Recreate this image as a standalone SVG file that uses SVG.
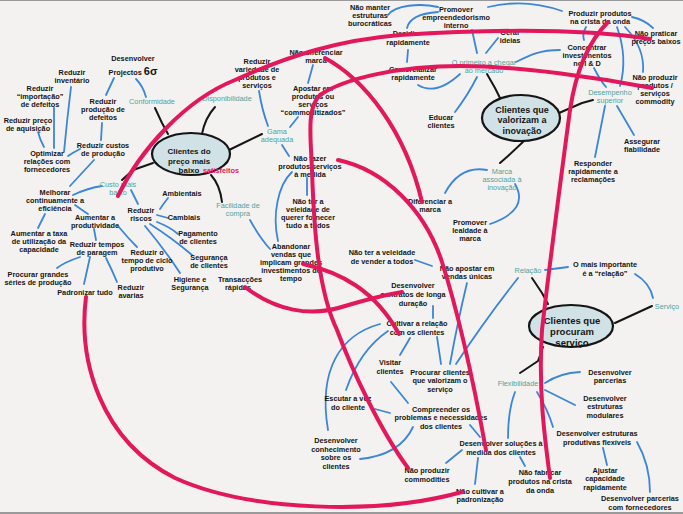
<svg xmlns="http://www.w3.org/2000/svg" width="683" height="514" viewBox="0 0 683 514">
<style>
.t{font-family:"Liberation Sans",Arial,sans-serif;font-size:7.3px;font-weight:bold;fill:#151515;text-anchor:middle}
.tl{font-family:"Liberation Sans",Arial,sans-serif;font-size:7.3px;fill:#4fa39c;text-anchor:middle}
.nt{font-family:"Liberation Sans",Arial,sans-serif;font-weight:bold;fill:#151515;text-anchor:middle}
.hub{fill:#d0e2e5;stroke:#151515;stroke-width:2.2}
.b{fill:none;stroke:#3b86d8;stroke-width:1.8;stroke-linecap:round}
.k{fill:none;stroke:#151515;stroke-width:2;stroke-linecap:round;stroke-linejoin:round}
.m{fill:none;stroke:#e3175c;stroke-width:4;stroke-linecap:round}
</style>
<rect width="683" height="514" fill="#f3f2f0"/>
<rect x="0" y="0" width="683" height="1" fill="#9a9a9a"/>
<rect x="0" y="512" width="683" height="2" fill="#9a9a9a"/>

<g id="connectors">
<path class="b" d="M114,78 L106,95"/>
<path class="b" d="M136,79 Q143,86 146,97"/>
<path class="b" d="M71,87 Q67,120 64,152"/>
<path class="b" d="M54,108 L54,148"/>
<path class="b" d="M38,132 Q40,140 44,147"/>
<path class="b" d="M102,123 L101,140"/>
<path class="b" d="M80,149 Q74,152 68,156"/>
<path class="b" d="M94,160 L70,186"/>
<path class="b" d="M73,195 Q88,188 102,186"/>
<path class="b" d="M45,214 L38,228"/>
<path class="b" d="M75,205 Q82,210 88,214"/>
<path class="b" d="M94,229 L96,240"/>
<path class="b" d="M118,226 Q128,238 137,247"/>
<path class="b" d="M80,257 Q65,262 57,268"/>
<path class="b" d="M90,257 L84,284"/>
<path class="b" d="M106,258 Q112,270 117,282"/>
<path class="b" d="M131,190 Q135,198 138,204"/>
<path class="b" d="M160,209 Q164,203 168,198"/>
<path class="b" d="M157,215 L168,218"/>
<path class="b" d="M157,222 Q170,227 178,234"/>
<path class="b" d="M150,224 Q172,238 192,255"/>
<path class="b" d="M145,226 Q165,250 180,273"/>
<path class="b" d="M259,91 Q262,110 268,126"/>
<path class="b" d="M308,83 L313,65"/>
<path class="b" d="M290,127 L298,117"/>
<path class="b" d="M282,145 L289,156"/>
<path class="b" d="M307,178 L307,195"/>
<path class="b" d="M292,172 C278,185 272,215 278,241"/>
<path class="b" d="M250,220 Q260,238 270,249"/>
<path class="b" d="M388,15 C395,5 420,3 438,7"/>
<path class="b" d="M407,28 Q410,14 438,12"/>
<path class="b" d="M488,7 Q525,-2 562,11"/>
<path class="b" d="M472,30 L477,53"/>
<path class="b" d="M498,38 L486,53"/>
<path class="b" d="M516,62 C530,55 540,50 560,50"/>
<path class="b" d="M418,85 Q436,96 460,74"/>
<path class="b" d="M408,50 L407,62"/>
<path class="b" d="M455,112 Q468,95 477,77"/>
<path class="b" d="M632,17 Q645,20 653,28"/>
<path class="b" d="M586,27 Q582,34 584,40"/>
<path class="b" d="M617,27 Q628,58 620,86"/>
<path class="b" d="M625,27 Q645,48 643,72"/>
<path class="b" d="M594,68 Q600,80 606,87"/>
<path class="b" d="M605,106 L595,157"/>
<path class="b" d="M617,106 L634,135"/>
<path class="b" d="M487,170 Q460,165 445,193"/>
<path class="b" d="M515,184 Q530,210 490,224"/>
<path class="b" d="M545,270 L568,267"/>
<path class="b" d="M635,274 Q650,283 653,298"/>
<path class="b" d="M518,278 Q485,320 456,364"/>
<path class="b" d="M467,283 Q458,320 450,364"/>
<path class="b" d="M437,337 L441,364"/>
<path class="b" d="M415,260 L432,266"/>
<path class="b" d="M433,306 L433,318"/>
<path class="b" d="M380,324 C340,335 318,370 328,430"/>
<path class="b" d="M388,331 Q360,350 346,390"/>
<path class="b" d="M410,338 L400,355"/>
<path class="b" d="M391,382 L408,403"/>
<path class="b" d="M375,409 L390,413"/>
<path class="b" d="M413,427 Q400,455 360,459"/>
<path class="b" d="M470,425 L480,437"/>
<path class="b" d="M462,450 L446,463"/>
<path class="b" d="M478,458 L475,484"/>
<path class="b" d="M520,457 L525,466"/>
<path class="b" d="M515,392 Q508,410 508,438"/>
<path class="b" d="M545,383 Q560,373 580,372"/>
<path class="b" d="M545,390 L575,405"/>
<path class="b" d="M537,392 Q548,410 553,427"/>
<path class="b" d="M603,448 L607,465"/>
<path class="b" d="M637,442 Q650,465 650,492"/>
<path class="k" d="M155,108 L162,123 L168,134"/>
<path class="k" d="M215,107 Q205,118 202,134"/>
<path class="k" d="M229,150 L262,134"/>
<path class="k" d="M211,175 Q220,185 222,202"/>
<path class="k" d="M153,163 L133,170 L122,180"/>
<path class="k" d="M487,74 L495,88 L500,98"/>
<path class="k" d="M559,113 L582,103 L593,100"/>
<path class="k" d="M525,140 L508,156 L500,163"/>
<path class="k" d="M532,278 L542,293 L548,304"/>
<path class="k" d="M652,306 L615,323"/>
<path class="k" d="M520,373 L538,361 L543,347"/>
</g>

<g id="hub-preco">
<ellipse class="hub" cx="191" cy="154" rx="39" ry="21"/>
<text class="nt" font-size="8" x="189" y="154">Clientes do</text>
<text class="nt" font-size="8" x="189" y="164">preço mais</text>
<text class="nt" font-size="8" x="189" y="173">baixo</text>
<text class="t" x="221" y="173" style="fill:#e3175c">satisfeitos</text>
</g>
<g id="hub-inovacao">
<ellipse class="hub" cx="521" cy="118" rx="39" ry="23"/>
<text class="nt" font-size="9" x="522" y="113">Clientes que</text>
<text class="nt" font-size="9" x="522" y="123">valorizam a</text>
<text class="nt" font-size="9" x="522" y="134">inovação</text>
</g>
<g id="hub-servico">
<ellipse class="hub" cx="571" cy="326" rx="42" ry="21"/>
<text class="nt" font-size="9.5" x="572" y="323.5">Clientes que</text>
<text class="nt" font-size="9.5" x="572" y="334.5">procuram</text>
<text class="nt" font-size="9.5" x="572" y="345.5">serviço</text>
</g>

<g id="n-6sigma"><text class="t" x="133" y="61">Desenvolver</text><text class="t" x="133" y="75">Projectos <tspan font-size="11">6σ</tspan></text></g>
<g id="n-conformidade"><text class="tl" x="152" y="104">Conformidade</text></g>
<g id="n-red-inventario"><text class="t" x="72" y="75">Reduzir</text><text class="t" x="72" y="83">inventário</text></g>
<g id="n-red-importacao"><text class="t" x="40" y="91">Reduzir</text><text class="t" x="40" y="99">“importação”</text><text class="t" x="40" y="107">de defeitos</text></g>
<g id="n-red-preco"><text class="t" x="28" y="123">Reduzir preço</text><text class="t" x="28" y="131">de aquisição</text></g>
<g id="n-red-producao"><text class="t" x="103" y="104">Reduzir</text><text class="t" x="103" y="112">produção de</text><text class="t" x="103" y="120">defeitos</text></g>
<g id="n-red-custos"><text class="t" x="103" y="148">Reduzir custos</text><text class="t" x="103" y="156">de produção</text></g>
<g id="n-optimizar"><text class="t" x="47" y="156">Optimizar</text><text class="t" x="47" y="164">relações com</text><text class="t" x="47" y="172">fornecedores</text></g>
<g id="n-custo"><text class="tl" x="118" y="187">Custo mais</text><text class="tl" x="118" y="195">baixo</text></g>
<g id="n-melhorar"><text class="t" x="55" y="195">Melhorar</text><text class="t" x="55" y="203">continuamente a</text><text class="t" x="55" y="211">eficiência</text></g>
<g id="n-aum-produtividade"><text class="t" x="95" y="220">Aumentar a</text><text class="t" x="95" y="228">produtividade</text></g>
<g id="n-aum-taxa"><text class="t" x="39" y="236">Aumentar a taxa</text><text class="t" x="39" y="244">de utilização da</text><text class="t" x="39" y="252">capacidade</text></g>
<g id="n-red-tempos"><text class="t" x="97" y="247">Reduzir tempos</text><text class="t" x="97" y="255">de paragem</text></g>
<g id="n-red-ciclo"><text class="t" x="147" y="255">Reduzir o</text><text class="t" x="147" y="263">tempo de ciclo</text><text class="t" x="147" y="271">produtivo</text></g>
<g id="n-procurar-grandes"><text class="t" x="38" y="277">Procurar grandes</text><text class="t" x="38" y="285">séries de produção</text></g>
<g id="n-padronizar"><text class="t" x="85" y="295">Padronizar tudo</text></g>
<g id="n-avarias"><text class="t" x="131" y="290">Reduzir</text><text class="t" x="131" y="298">avarias</text></g>
<g id="n-riscos"><text class="t" x="141" y="213">Reduzir</text><text class="t" x="141" y="221">riscos</text></g>
<g id="n-ambientais"><text class="t" x="182" y="196">Ambientais</text></g>
<g id="n-cambiais"><text class="t" x="184" y="220">Cambiais</text></g>
<g id="n-pagamento"><text class="t" x="198" y="236">Pagamento</text><text class="t" x="198" y="244">de clientes</text></g>
<g id="n-seguranca"><text class="t" x="209" y="260">Segurança</text><text class="t" x="209" y="268">de clientes</text></g>
<g id="n-higiene"><text class="t" x="190" y="282">Higiene e</text><text class="t" x="190" y="290">Segurança</text></g>
<g id="n-transaccoes"><text class="t" x="240" y="282">Transacções</text><text class="t" x="238" y="290">rápidas</text></g>

<g id="n-disponibilidade"><text class="tl" x="227" y="101">Disponibilidade</text></g>
<g id="n-gama"><text class="tl" x="277" y="134">Gama</text><text class="tl" x="277" y="142">adequada</text></g>
<g id="n-facilidade"><text class="tl" x="238" y="208">Facilidade de</text><text class="tl" x="238" y="216">compra</text></g>
<g id="n-red-variedade"><text class="t" x="257" y="64">Reduzir</text><text class="t" x="257" y="72">variedade de</text><text class="t" x="257" y="80">produtos e</text><text class="t" x="257" y="88">serviços</text></g>
<g id="n-nao-diferenciar"><text class="t" x="316" y="55">Não diferenciar</text><text class="t" x="316" y="63">marca</text></g>
<g id="n-apostar"><text class="t" x="313" y="91">Apostar em</text><text class="t" x="313" y="99">produtos ou</text><text class="t" x="313" y="107">serviços</text><text class="t" x="313" y="115">“commoditizados”</text></g>
<g id="n-nao-fazer"><text class="t" x="310" y="161">Não fazer</text><text class="t" x="310" y="169">produtos serviços</text><text class="t" x="310" y="177">à medida</text></g>
<g id="n-nao-ter-1"><text class="t" x="308" y="204">Não ter a</text><text class="t" x="308" y="212">veleidade de</text><text class="t" x="308" y="220">querer fornecer</text><text class="t" x="308" y="228">tudo a todos</text></g>
<g id="n-abandonar"><text class="t" x="291" y="249">Abandonar</text><text class="t" x="291" y="257">vendas que</text><text class="t" x="291" y="265">implicam grandes</text><text class="t" x="291" y="273">investimentos de</text><text class="t" x="291" y="281">tempo</text></g>

<g id="n-nao-manter"><text class="t" x="370" y="10">Não manter</text><text class="t" x="370" y="18">estruturas</text><text class="t" x="370" y="26">burocráticas</text></g>
<g id="n-promover"><text class="t" x="456" y="12">Promover</text><text class="t" x="456" y="20">empreendedorismo</text><text class="t" x="456" y="28">interno</text></g>
<g id="n-decidir"><text class="t" x="405" y="36">Decidir</text><text class="t" x="408" y="45">rapidamente</text></g>
<g id="n-comercializar"><text class="t" x="413" y="72">Comercializar</text><text class="t" x="413" y="80">rapidamente</text></g>
<g id="n-primeiro"><text class="tl" x="484" y="65">O primeiro a chegar</text><text class="tl" x="484" y="73">ao mercado</text></g>
<g id="n-gerar"><text class="t" x="510" y="35">Gerar</text><text class="t" x="510" y="43">ideias</text></g>
<g id="n-educar"><text class="t" x="441" y="120">Educar</text><text class="t" x="441" y="128">clientes</text></g>
<g id="n-produzir-crista"><text class="t" x="600" y="16">Produzir produtos</text><text class="t" x="600" y="24">na crista da onda</text></g>
<g id="n-nao-praticar"><text class="t" x="656" y="36">Não praticar</text><text class="t" x="656" y="44">preços baixos</text></g>
<g id="n-concentrar"><text class="t" x="587" y="50">Concentrar</text><text class="t" x="587" y="58">investimentos</text><text class="t" x="587" y="66">no I &amp; D</text></g>
<g id="n-nao-produzir-commodity"><text class="t" x="655" y="80">Não produzir</text><text class="t" x="655" y="88">produtos /</text><text class="t" x="655" y="96">serviços</text><text class="t" x="655" y="104">commodity</text></g>
<g id="n-desempenho"><text class="tl" x="610" y="95">Desempenho</text><text class="tl" x="610" y="103">superior</text></g>
<g id="n-assegurar"><text class="t" x="642" y="144">Assegurar</text><text class="t" x="642" y="152">fiabilidade</text></g>
<g id="n-responder"><text class="t" x="593" y="166">Responder</text><text class="t" x="593" y="174">rapidamente a</text><text class="t" x="593" y="182">reclamações</text></g>
<g id="n-marca"><text class="tl" x="502" y="174">Marca</text><text class="tl" x="502" y="182">associada à</text><text class="tl" x="502" y="190">inovação</text></g>
<g id="n-diferenciar"><text class="t" x="430" y="204">Diferenciar a</text><text class="t" x="430" y="212">marca</text></g>
<g id="n-lealdade"><text class="t" x="470" y="225">Promover</text><text class="t" x="470" y="233">lealdade à</text><text class="t" x="470" y="241">marca</text></g>

<g id="n-nao-ter-2"><text class="t" x="382" y="255">Não ter a veleidade</text><text class="t" x="382" y="264">de vender a todos</text></g>
<g id="n-nao-apostar"><text class="t" x="467" y="271">Não apostar em</text><text class="t" x="467" y="279">vendas únicas</text></g>
<g id="n-contratos"><text class="t" x="413" y="288">Desenvolver</text><text class="t" x="413" y="297">contratos de longa</text><text class="t" x="413" y="306">duração</text></g>
<g id="n-cultivar"><text class="t" x="417" y="326">Cultivar a relação</text><text class="t" x="417" y="335">com os clientes</text></g>
<g id="n-relacao"><text class="tl" x="528" y="273">Relação</text></g>
<g id="n-mais-importante"><text class="t" x="605" y="267">O mais importante</text><text class="t" x="605" y="276">é a “relação”</text></g>
<g id="n-servico"><text class="tl" x="667" y="309">Serviço</text></g>
<g id="n-visitar"><text class="t" x="390" y="365">Visitar</text><text class="t" x="390" y="374">clientes</text></g>
<g id="n-procurar-clientes"><text class="t" x="440" y="375">Procurar clientes</text><text class="t" x="440" y="383">que valorizam o</text><text class="t" x="440" y="392">serviço</text></g>
<g id="n-escutar"><text class="t" x="348" y="401">Escutar a voz</text><text class="t" x="348" y="410">do cliente</text></g>
<g id="n-compreender"><text class="t" x="441" y="412">Compreender os</text><text class="t" x="441" y="420">problemas e necessidades</text><text class="t" x="441" y="429">dos clientes</text></g>
<g id="n-conhecimento"><text class="t" x="336" y="443">Desenvolver</text><text class="t" x="336" y="452">conhecimento</text><text class="t" x="336" y="460">sobre os</text><text class="t" x="336" y="469">clientes</text></g>
<g id="n-nao-produzir-commodities"><text class="t" x="427" y="473">Não produzir</text><text class="t" x="427" y="482">commodities</text></g>
<g id="n-solucoes"><text class="t" x="501" y="446">Desenvolver soluções à</text><text class="t" x="501" y="455">medida dos clientes</text></g>
<g id="n-nao-fabricar"><text class="t" x="540" y="475">Não fabricar</text><text class="t" x="540" y="484">produtos na crista</text><text class="t" x="540" y="493">da onda</text></g>
<g id="n-nao-cultivar"><text class="t" x="480" y="494">Não cultivar a</text><text class="t" x="480" y="502">padronização</text></g>
<g id="n-flexibilidade"><text class="tl" x="518" y="386">Flexibilidade</text></g>
<g id="n-parcerias"><text class="t" x="610" y="375">Desenvolver</text><text class="t" x="610" y="383">parcerias</text></g>
<g id="n-modulares"><text class="t" x="605" y="401">Desenvolver</text><text class="t" x="605" y="409">estruturas</text><text class="t" x="605" y="418">modulares</text></g>
<g id="n-flexiveis"><text class="t" x="597" y="436">Desenvolver estruturas</text><text class="t" x="597" y="445">produtivas flexíveis</text></g>
<g id="n-ajustar"><text class="t" x="605" y="473">Ajustar</text><text class="t" x="605" y="481">capacidade</text><text class="t" x="605" y="490">rapidamente</text></g>
<g id="n-parcerias-fornecedores"><text class="t" x="640" y="501">Desenvolver parcerias</text><text class="t" x="640" y="510">com fornecedores</text></g>

<g id="contrast-links">
<path class="m" d="M118,196 C140,150 185,100 235,80 C290,55 340,40 400,35 C480,30 580,28 650,39"/>
<path class="m" d="M652,88 C600,78 520,66 460,66 C400,66 345,78 320,95 C306,108 311,140 312,170 C314,230 318,290 337,330 C352,370 380,430 408,468"/>
<path class="m" d="M325,58 C365,80 405,130 422,202"/>
<path class="m" d="M338,160 C385,170 425,210 442,262 C458,312 475,390 486,450"/>
<path class="m" d="M303,264 C340,272 375,290 399,334"/>
<path class="m" d="M245,287 C275,310 310,318 345,306 C365,300 385,295 402,292"/>
<path class="m" d="M608,22 C590,40 576,70 570,110 C562,170 550,260 542,330 C538,390 545,440 550,478"/>
<path class="m" d="M86,297 C78,360 100,440 175,478 C250,512 380,515 462,492"/>
</g>
</svg>
